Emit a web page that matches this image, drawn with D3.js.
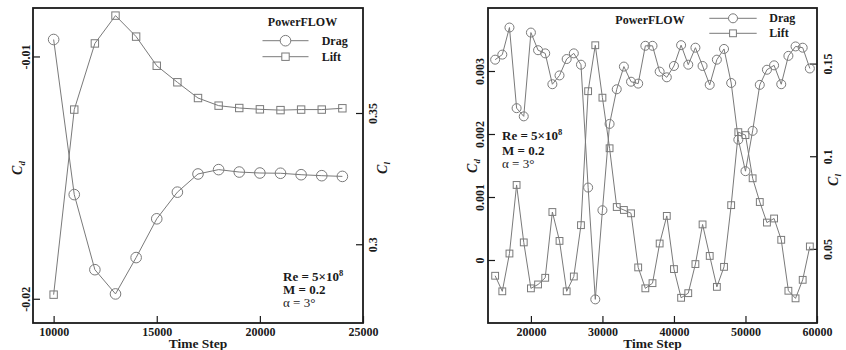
<!DOCTYPE html>
<html>
<head>
<meta charset="utf-8">
<script src="https://cdn.jsdelivr.net/npm/d3@7/dist/d3.min.js"></script>
<style>
  body { margin: 0; background: #fff; }
  svg { display: block; }
  text { font-family: "Liberation Serif", "Times New Roman", serif; font-weight: bold; fill: #1a1a1a; }
</style>
</head>
<body>
<svg id="chart" width="846" height="350"></svg>
<script>
// ---- Panel A: start-up transient ----
const stepsA = [10000, 11000, 12000, 13000, 14000, 15000, 16000, 17000, 18000, 19000, 20000, 21000, 22000, 23000, 24000];
const dragA = [-0.0093, -0.0157, -0.0188, -0.0198, -0.0183, -0.0167, -0.0156, -0.01485, -0.01467, -0.01477, -0.01481, -0.01482, -0.01488, -0.01492, -0.01495];
const liftA = [0.2808, 0.3513, 0.3765, 0.3871, 0.3791, 0.3680, 0.3617, 0.3557, 0.3528, 0.3519, 0.3514, 0.3511, 0.3513, 0.3513, 0.3518];
const xTicksA = [10000, 15000, 20000, 25000];
const xTickLabelsA = ["10000", "15000", "20000", "25000"];
const cdTicksA = [-0.02, -0.01];
const cdTickLabelsA = ["-0.02", "-0.01"];
const clTicksA = [0.3, 0.35];
const clTickLabelsA = ["0.3", "0.35"];

// ---- Panel B: long run ----
const stepsB = [15000, 16000, 17000, 18000, 19000, 20000, 21000, 22000, 23000, 24000, 25000, 26000, 27000, 28000, 29000,
  30000, 31000, 32000, 33000, 34000, 35000, 36000, 37000, 38000, 39000, 40000, 41000, 42000, 43000, 44000,
  45000, 46000, 47000, 48000, 49000, 50000, 51000, 52000, 53000, 54000, 55000, 56000, 57000, 58000, 59000];
const dragB = [0.00318, 0.00326, 0.00369, 0.00241, 0.00228, 0.00361, 0.00333, 0.00328, 0.00279, 0.00293, 0.00319, 0.00328, 0.00310, 0.00115, -0.000625,
  0.00079, 0.00216, 0.00271, 0.00307, 0.00283, 0.00280, 0.00340, 0.00340, 0.00299, 0.00290, 0.00308, 0.00341, 0.00310, 0.00337, 0.00308,
  0.00278, 0.00318, 0.00335, 0.00281, 0.00191, 0.00141, 0.00205, 0.00278, 0.00302, 0.00309, 0.00279, 0.00324, 0.00339, 0.00337, 0.00304];
const liftB = [0.0355, 0.0271, 0.0475, 0.0845, 0.0535, 0.0287, 0.0308, 0.0344, 0.0699, 0.0543, 0.0271, 0.0351, 0.0628, 0.1351, 0.1599,
  0.1316, 0.1043, 0.0726, 0.0710, 0.0692, 0.0400, 0.0287, 0.0315, 0.0529, 0.0678, 0.0391, 0.0236, 0.0261, 0.0418, 0.0632,
  0.0462, 0.0295, 0.0403, 0.0736, 0.1130, 0.1114, 0.0881, 0.0753, 0.0642, 0.0664, 0.0549, 0.0274, 0.0233, 0.0333, 0.0513];
const xTicksB = [20000, 30000, 40000, 50000, 60000];
const xTickLabelsB = ["20000", "30000", "40000", "50000", "60000"];
const cdTicksB = [0, 0.001, 0.002, 0.003];
const cdTickLabelsB = ["0", "0.001", "0.002", "0.003"];
const clTicksB = [0.05, 0.1, 0.15];
const clTickLabelsB = ["0.05", "0.1", "0.15"];

const seriesNames = ["Drag", "Lift"];
const solverName = "PowerFLOW";

const svg = d3.select("#chart");
const LINE = "#7a7a7a";
const INK = "#1a1a1a";

function range(a, b, s) {
  const out = [];
  const n = Math.round((b - a) / s);
  for (let i = 0; i <= n; i++) out.push(+(a + i * s).toFixed(8));
  return out;
}

function drawPanel(cfg) {
  const g = svg.append("g");
  const x = d3.scaleLinear().domain(cfg.xDomain).range([cfg.left, cfg.right]);
  const yCd = d3.scaleLinear().domain(cfg.cdDomain).range([cfg.bottom, cfg.top]);
  const yCl = d3.scaleLinear().domain(cfg.clDomain).range([cfg.bottom, cfg.top]);

  const fmt = (vals, labels) => d => labels[vals.indexOf(d)];

  // bottom axis
  const gx = g.append("g").attr("transform", `translate(0,${cfg.bottom})`);
  gx.call(d3.axisBottom(x).tickValues(cfg.xMinor).tickSize(-3.5).tickFormat(""));
  gx.call(d3.axisBottom(x).tickValues(cfg.xTicks).tickSize(-7).tickFormat(fmt(cfg.xTicks, cfg.xTickLabels)));
  gx.selectAll("text").attr("y", 12.5).attr("dy", null).style("font-size", "12px");

  // left (Cd) axis
  const gl = g.append("g").attr("transform", `translate(${cfg.left},0)`);
  gl.call(d3.axisLeft(yCd).tickValues(cfg.cdMinor).tickSize(-3.5).tickFormat(""));
  gl.call(d3.axisLeft(yCd).tickValues(cfg.cdTicks).tickSize(-7).tickFormat(fmt(cfg.cdTicks, cfg.cdTickLabels)));
  gl.selectAll("text").attr("x", null).attr("dy", null)
    .attr("text-anchor", "middle")
    .attr("transform", `translate(${cfg.leftLabelOff},0) rotate(-90)`)
    .style("font-size", "12px");

  // right (Cl) axis
  const gr = g.append("g").attr("transform", `translate(${cfg.right},0)`);
  gr.call(d3.axisRight(yCl).tickValues(cfg.clMinor).tickSize(-3.5).tickFormat(""));
  gr.call(d3.axisRight(yCl).tickValues(cfg.clTicks).tickSize(-7).tickFormat(fmt(cfg.clTicks, cfg.clTickLabels)));
  gr.selectAll("text").attr("x", null).attr("dy", null)
    .attr("text-anchor", "middle")
    .attr("transform", `translate(${cfg.rightLabelOff},0) rotate(-90)`)
    .style("font-size", "12px");

  g.selectAll(".domain").remove();
  g.selectAll(".tick line").attr("stroke", INK).attr("stroke-width", 1.2);

  // frame
  g.append("rect")
    .attr("x", cfg.left).attr("y", cfg.top)
    .attr("width", cfg.right - cfg.left).attr("height", cfg.bottom - cfg.top)
    .attr("fill", "none").attr("stroke", INK).attr("stroke-width", 1.8);

  // axis titles
  g.append("text")
    .attr("x", (cfg.left + cfg.right) / 2).attr("y", 347.5)
    .attr("text-anchor", "middle").style("font-size", "13.5px")
    .text("Time Step");

  const cdT = g.append("text")
    .attr("transform", `translate(${cfg.cdTitleX},${cfg.cdTitleY}) rotate(-90)`)
    .attr("text-anchor", "middle").style("font-size", "14px").style("font-style", "italic");
  cdT.append("tspan").text("C");
  cdT.append("tspan").attr("dy", 3).style("font-size", "9px").text("d");

  const clT = g.append("text")
    .attr("transform", `translate(${cfg.clTitleX},${cfg.clTitleY}) rotate(-90)`)
    .attr("text-anchor", "middle").style("font-size", "14px").style("font-style", "italic");
  clT.append("tspan").text("C");
  clT.append("tspan").attr("dy", 3).style("font-size", "9px").text("l");

  // series
  const drag = cfg.steps.map((s, i) => [s, cfg.drag[i]]);
  const lift = cfg.steps.map((s, i) => [s, cfg.lift[i]]);
  const lineCd = d3.line().x(d => x(d[0])).y(d => yCd(d[1]));
  const lineCl = d3.line().x(d => x(d[0])).y(d => yCl(d[1]));

  g.append("path").datum(drag).attr("d", lineCd)
    .attr("fill", "none").attr("stroke", LINE).attr("stroke-width", 1);
  g.append("path").datum(lift).attr("d", lineCl)
    .attr("fill", "none").attr("stroke", LINE).attr("stroke-width", 1);

  g.append("g").selectAll("circle").data(drag).join("circle")
    .attr("cx", d => x(d[0])).attr("cy", d => yCd(d[1])).attr("r", cfg.r)
    .attr("fill", "none").attr("stroke", LINE).attr("stroke-width", 1);
  g.append("g").selectAll("rect").data(lift).join("rect")
    .attr("x", d => x(d[0]) - cfg.sq / 2).attr("y", d => yCl(d[1]) - cfg.sq / 2)
    .attr("width", cfg.sq).attr("height", cfg.sq)
    .attr("fill", "none").attr("stroke", LINE).attr("stroke-width", 1);

  // legend
  const L = cfg.legend;
  g.append("text").attr("x", L.titleX).attr("y", L.titleY)
    .attr("text-anchor", "middle").style("font-size", "12px").text(solverName);
  seriesNames.forEach((name, i) => {
    const yy = L.rowY[i];
    g.append("line").attr("x1", L.x1).attr("x2", L.x2).attr("y1", yy).attr("y2", yy)
      .attr("stroke", LINE).attr("stroke-width", 1);
    const cx = (L.x1 + L.x2) / 2;
    if (i === 0) {
      g.append("circle").attr("cx", cx).attr("cy", yy).attr("r", cfg.r)
        .attr("fill", "#fff").attr("stroke", LINE);
    } else {
      g.append("rect").attr("x", cx - cfg.sq / 2).attr("y", yy - cfg.sq / 2)
        .attr("width", cfg.sq).attr("height", cfg.sq)
        .attr("fill", "#fff").attr("stroke", LINE);
    }
    g.append("text").attr("x", L.textX).attr("y", yy + 4)
      .style("font-size", "12px").text(name);
  });

  // flow conditions
  const A = cfg.note;
  const t1 = g.append("text").attr("x", A.x).attr("y", A.y[0]).style("font-size", "13px");
  t1.append("tspan").text("Re = 5×10");
  t1.append("tspan").attr("dy", -5).style("font-size", "8.5px").text("8");
  g.append("text").attr("x", A.x).attr("y", A.y[1]).style("font-size", "13px").text("M = 0.2");
  g.append("text").attr("x", A.x).attr("y", A.y[2]).style("font-size", "13px")
    .style("font-weight", "normal").text("α = 3°");
}

drawPanel({
  left: 33, right: 363, top: 8, bottom: 323,
  xDomain: [9000, 25000], cdDomain: [-0.021, -0.008], clDomain: [0.27, 0.39],
  xTicks: xTicksA, xTickLabels: xTickLabelsA, xMinor: range(9000, 25000, 1000),
  cdTicks: cdTicksA, cdTickLabels: cdTickLabelsA, cdMinor: range(-0.021, -0.008, 0.001),
  clTicks: clTicksA, clTickLabels: clTickLabelsA, clMinor: range(0.27, 0.39, 0.01),
  leftLabelOff: -3, rightLabelOff: 13.5,
  cdTitleX: 22, cdTitleY: 168, clTitleX: 387, clTitleY: 168,
  steps: stepsA, drag: dragA, lift: liftA,
  r: 5.3, sq: 7.4,
  legend: { titleX: 302.5, titleY: 25.7, x1: 262.5, x2: 308.5, textX: 321.7, rowY: [40.7, 56.7] },
  note: { x: 283, y: [281, 294, 306.5] }
});

drawPanel({
  left: 488, right: 817, top: 8, bottom: 323,
  xDomain: [14000, 60000], cdDomain: [-0.001, 0.004], clDomain: [0.01, 0.18],
  xTicks: xTicksB, xTickLabels: xTickLabelsB, xMinor: range(14000, 60000, 2000),
  cdTicks: cdTicksB, cdTickLabels: cdTickLabelsB, cdMinor: range(-0.001, 0.004, 0.0002),
  clTicks: clTicksB, clTickLabels: clTickLabelsB, clMinor: range(0.01, 0.18, 0.01),
  leftLabelOff: -3.7, rightLabelOff: 14.7,
  cdTitleX: 477, cdTitleY: 166, clTitleX: 838, clTitleY: 180,
  steps: stepsB, drag: dragB, lift: liftB,
  r: 4.5, sq: 6.8,
  legend: { titleX: 650, titleY: 24, x1: 709.3, x2: 756.7, textX: 769.3, rowY: [18.3, 33.3] },
  note: { x: 502, y: [140, 155, 167.5] }
});
</script>
</body>
</html>
